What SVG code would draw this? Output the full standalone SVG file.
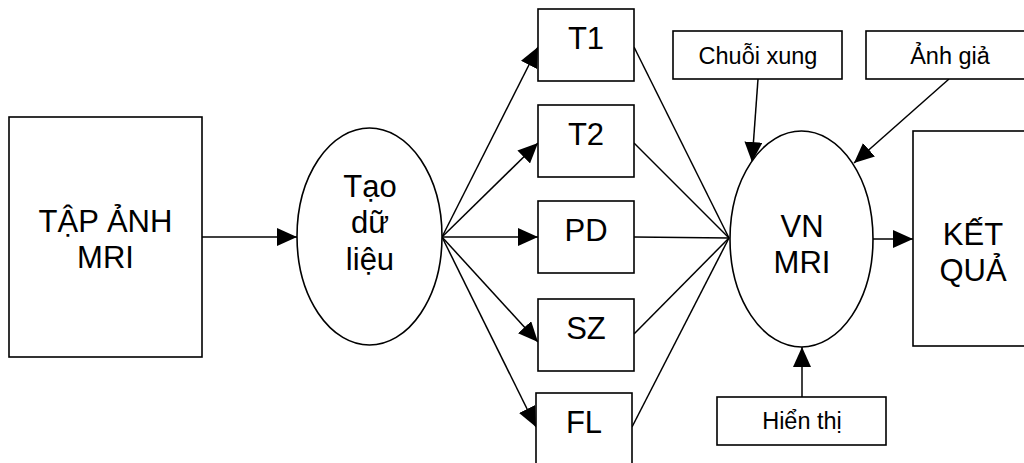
<svg xmlns="http://www.w3.org/2000/svg" width="1024" height="463" viewBox="0 0 1024 463">
<style>
.s{fill:#fff;stroke:#000;stroke-width:1.6}
.c{stroke:#000;stroke-width:1.5;fill:none}
.b{font-family:"Liberation Sans",Arial,sans-serif;font-size:31px;text-anchor:middle;fill:#000}
.m{font-family:"Liberation Sans",Arial,sans-serif;font-size:23.5px;text-anchor:middle;fill:#000}
</style>
<defs>
<marker id="a" markerUnits="userSpaceOnUse" markerWidth="20" markerHeight="18" refX="20" refY="9" orient="auto">
<path d="M0,0 L20,9 L0,18 z" fill="#000"/>
</marker>
</defs>
<rect width="1024" height="463" fill="#fff"/>
<g id="connectors">
<line class="c" x1="202" y1="237" x2="297" y2="237" marker-end="url(#a)"/>
<line class="c" x1="442" y1="237" x2="538" y2="47" marker-end="url(#a)"/>
<line class="c" x1="442" y1="237" x2="538" y2="143" marker-end="url(#a)"/>
<line class="c" x1="442" y1="237" x2="538" y2="237" marker-end="url(#a)"/>
<line class="c" x1="442" y1="237" x2="538" y2="342" marker-end="url(#a)"/>
<line class="c" x1="442" y1="237" x2="536" y2="427" marker-end="url(#a)"/>
<line class="c" x1="634" y1="47" x2="729" y2="238"/>
<line class="c" x1="634" y1="143" x2="729" y2="238"/>
<line class="c" x1="634" y1="237" x2="729" y2="238"/>
<line class="c" x1="634" y1="334" x2="729" y2="238"/>
<line class="c" x1="632" y1="427" x2="729" y2="238"/>
<line class="c" x1="758" y1="79" x2="752" y2="162" marker-end="url(#a)"/>
<line class="c" x1="949" y1="79" x2="854" y2="163" marker-end="url(#a)"/>
<line class="c" x1="802" y1="397" x2="802" y2="347" marker-end="url(#a)"/>
<line class="c" x1="873" y1="239" x2="913" y2="239" marker-end="url(#a)"/>
</g>
<g id="tapanh">
<rect class="s" x="9" y="117" width="193" height="240"/>
<text class="b" x="105.5" y="232">TẬP ẢNH</text>
<text class="b" x="105.5" y="268">MRI</text>
</g>
<g id="taodulieu">
<ellipse class="s" cx="369.5" cy="236.5" rx="72.5" ry="108.5"/>
<text class="b" x="370" y="197">Tạo</text>
<text class="b" x="370" y="233">dữ</text>
<text class="b" x="370" y="270">liệu</text>
</g>
<g id="t1">
<rect class="s" x="538" y="9" width="96" height="72"/>
<text class="b" x="586" y="49">T1</text>
</g>
<g id="t2">
<rect class="s" x="538" y="105" width="96" height="72"/>
<text class="b" x="586" y="145">T2</text>
</g>
<g id="pd">
<rect class="s" x="538" y="201" width="96" height="72"/>
<text class="b" x="586" y="241">PD</text>
</g>
<g id="sz">
<rect class="s" x="538" y="299" width="96" height="72"/>
<text class="b" x="586" y="339">SZ</text>
</g>
<g id="fl">
<rect class="s" x="536" y="393" width="96" height="80"/>
<text class="b" x="584" y="433">FL</text>
</g>
<g id="vnmri">
<ellipse class="s" cx="801.5" cy="239" rx="71.5" ry="108"/>
<text class="b" x="802" y="237">VN</text>
<text class="b" x="802" y="273">MRI</text>
</g>
<g id="chuoixung">
<rect class="s" x="673" y="31" width="169" height="48"/>
<text class="m" x="758" y="64">Chuỗi xung</text>
</g>
<g id="anhgia">
<rect class="s" x="866" y="31" width="170" height="48"/>
<text class="m" x="950" y="64">Ảnh giả</text>
</g>
<g id="hienthi">
<rect class="s" x="717" y="397" width="169" height="48"/>
<text class="m" x="802" y="429">Hiển thị</text>
</g>
<g id="ketqua">
<rect class="s" x="913" y="131" width="120" height="215"/>
<text class="b" x="973" y="245">KẾT</text>
<text class="b" x="973" y="281">QUẢ</text>
</g>
</svg>
